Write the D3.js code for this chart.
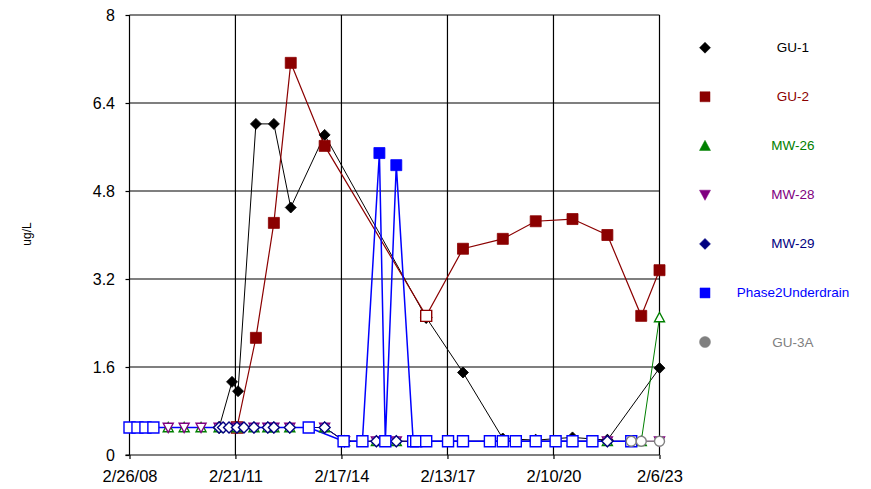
<!DOCTYPE html>
<html>
<head>
<meta charset="utf-8">
<script src="https://cdn.jsdelivr.net/npm/d3@7"></script>
<style>
  html, body { margin: 0; padding: 0; background: #fff; }
  svg { display: block; font-family: "Liberation Sans", Arial, sans-serif; }
</style>
</head>
<body>
<svg id="chart" width="871" height="489"></svg>
<script>
// ---------------- DATA ----------------
const xTickDates  = ["2008-02-26","2011-02-21","2014-02-17","2017-02-13","2020-02-10","2023-02-06"];
const xTickLabels = ["2/26/08","2/21/11","2/17/14","2/13/17","2/10/20","2/6/23"];
const yTickValues = [0, 1.6, 3.2, 4.8, 6.4, 8];
const yTickLabels = ["0","1.6","3.2","4.8","6.4","8"];

const seriesNames = ["GU-1","GU-2","MW-26","MW-28","MW-29","Phase2Underdrain","GU-3A"];

const gu1Dates  = ["2010-09-06","2011-01-17","2011-03-20","2011-09-20","2012-03-23","2012-09-13","2013-08-28","2016-07-09","2017-07-23","2018-09-06","2019-08-11","2020-08-24","2021-08-18","2023-02-06"];
const gu1Values = [0.5, 1.33, 1.16, 6.02, 6.02, 4.5, 5.82, 2.5, 1.5, 0.3, 0.27, 0.32, 0.27, 1.58];
const gu1Open   = [1,0,0,0,0,0,0,1,0,0,1,0,1,0];

const gu2Dates  = ["2011-03-09","2011-09-20","2012-03-23","2012-09-13","2013-08-28","2016-07-09","2017-07-23","2018-09-06","2019-08-11","2020-08-24","2021-08-18","2022-08-02","2023-02-06"];
const gu2Values = [0.5, 2.13, 4.22, 7.13, 5.62, 2.53, 3.75, 3.93, 4.25, 4.29, 4.0, 2.53, 3.36];
const gu2Open   = [1,0,0,0,0,1,0,0,0,0,0,0,0];

const mw26Dates  = ["2009-03-31","2009-09-11","2010-03-04","2010-09-06","2011-03-09","2011-08-31","2012-01-21","2012-03-23","2012-09-03","2013-08-28","2014-03-21","2014-09-21","2015-02-12","2015-09-05","2016-03-28","2017-02-19","2017-07-23","2018-09-06","2020-03-03","2020-08-24","2021-08-18","2022-08-02","2023-02-06"];
const mw26Values = [0.5,0.5,0.5,0.5,0.5,0.5,0.5,0.5,0.5,0.5,0.25,0.25,0.25,0.25,0.25,0.25,0.25,0.25,0.25,0.25,0.25,0.25,2.5];
const mw26Open   = [1,1,1,1,1,1,1,1,1,1,1,1,1,1,1,1,1,1,1,1,1,1,1];

const mw28Dates  = ["2009-03-31","2009-09-11","2010-03-04","2010-09-06","2011-03-09","2011-08-31","2012-01-21","2012-03-23","2012-09-03","2013-08-28","2014-03-21","2015-02-12","2015-09-05","2021-08-18","2023-02-06"];
const mw28Values = [0.5,0.5,0.5,0.5,0.5,0.5,0.5,0.5,0.5,0.5,0.25,0.25,0.25,0.25,0.25];
const mw28Open   = [1,1,1,1,1,1,1,1,1,1,1,1,1,1,1];

const mw29Dates  = ["2010-09-06","2010-10-17","2010-12-17","2011-03-09","2011-05-20","2011-08-31","2012-01-21","2012-03-23","2012-09-03","2013-08-28","2014-03-21","2015-02-12","2015-09-05","2021-08-18"];
const mw29Values = [0.5,0.5,0.5,0.5,0.5,0.5,0.5,0.5,0.5,0.5,0.25,0.25,0.25,0.25];
const mw29Open   = [1,1,1,1,1,1,1,1,1,1,1,1,1,1];

const p2Dates  = ["2008-02-26","2008-05-18","2008-08-08","2008-10-29","2013-03-17","2014-03-11","2014-09-21","2015-03-15","2015-05-15","2015-09-05","2016-02-26","2016-03-28","2016-07-09","2017-02-19","2017-07-23","2018-04-26","2018-09-06","2019-01-18","2019-08-11","2020-03-03","2020-08-24","2021-03-17","2022-04-21"];
const p2Values = [0.5,0.5,0.5,0.5,0.5,0.25,0.25,5.49,0.25,5.27,0.25,0.25,0.25,0.25,0.25,0.25,0.25,0.25,0.25,0.25,0.25,0.25,0.25];
const p2Open   = [1,1,1,1,1,1,1,0,1,0,1,1,1,1,1,1,1,1,1,1,1,1,1];

const gu3aDates  = ["2022-04-21","2022-08-02","2023-02-06"];
const gu3aValues = [0.25, 0.25, 0.25];
const gu3aOpen   = [1,1,1];

// ---------------- BUILD ----------------
(function () {
const parse = d3.utcParse("%Y-%m-%d");
function build(dates, values, open) {
  return dates.map((d, i) => ({ date: parse(d), value: values[i], open: !!open[i] }));
}
const series = [
  { name: seriesNames[0], color: "#000000", marker: "diamond", size: 11, lw: 1,   data: build(gu1Dates, gu1Values, gu1Open) },
  { name: seriesNames[1], color: "#8b0000", marker: "square",  size: 11, lw: 1.2, data: build(gu2Dates, gu2Values, gu2Open) },
  { name: seriesNames[2], color: "#008000", marker: "triUp",   size: 10, lw: 1,   data: build(mw26Dates, mw26Values, mw26Open) },
  { name: seriesNames[3], color: "#800080", marker: "triDown", size: 10, lw: 1,   data: build(mw28Dates, mw28Values, mw28Open) },
  { name: seriesNames[4], color: "#000080", marker: "diamond", size: 11, lw: 1,   data: build(mw29Dates, mw29Values, mw29Open) },
  { name: seriesNames[5], color: "#0000ff", marker: "square",  size: 11, lw: 1.5, data: build(p2Dates, p2Values, p2Open) },
  { name: seriesNames[6], color: "#808080", marker: "circle",  size: 10, lw: 1.2, data: build(gu3aDates, gu3aValues, gu3aOpen) }
];

const svg = d3.select("#chart");
const pLeft = 129.5, pRight = 659.5, pTop = 15, pBottom = 455;

const x = d3.scaleUtc().domain([parse(xTickDates[0]), parse(xTickDates[xTickDates.length - 1])]).range([pLeft, pRight]);
const y = d3.scaleLinear().domain([0, 8]).range([pBottom, pTop]);

function markerPath(type, s) {
  const h = s / 2;
  switch (type) {
    case "square":  return `M${-h},${-h}H${h}V${h}H${-h}Z`;
    case "diamond": return `M0,${-h}L${h},0L0,${h}L${-h},0Z`;
    case "triUp":   return `M0,${-h}L${h},${h * 0.85}L${-h},${h * 0.85}Z`;
    case "triDown": return `M0,${h}L${h},${-h * 0.85}L${-h},${-h * 0.85}Z`;
    case "circle":  return d3.arc()({ innerRadius: 0, outerRadius: h, startAngle: 0, endAngle: 2 * Math.PI });
  }
}

// gridlines
const grid = svg.append("g");
grid.selectAll("line.h").data(yTickValues.filter(v => v > 0)).join("line")
  .attr("x1", pLeft).attr("x2", pRight)
  .attr("y1", d => y(d)).attr("y2", d => y(d))
  .attr("stroke", "#555").attr("stroke-width", 1.5);
grid.selectAll("line.v").data(xTickDates.slice(1)).join("line")
  .attr("x1", d => x(parse(d))).attr("x2", d => x(parse(d)))
  .attr("y1", pTop).attr("y2", pBottom)
  .attr("stroke", "#000").attr("stroke-width", 1.2);

// axes
const yAxis = d3.axisLeft(y).tickValues(yTickValues).tickSize(4).tickPadding(10.5)
  .tickFormat((d, i) => yTickLabels[i]);
const yg = svg.append("g").attr("transform", `translate(${pLeft},0)`).call(yAxis);
const xAxis = d3.axisBottom(x).tickValues(xTickDates.map(parse)).tickSize(4).tickPadding(11)
  .tickFormat((d, i) => xTickLabels[i]);
const xg = svg.append("g").attr("transform", `translate(0,${pBottom})`).call(xAxis);
[yg, xg].forEach(g => {
  g.select(".domain").remove();
  g.selectAll(".tick line").attr("stroke", "#000").attr("stroke-width", 1.2);
  g.selectAll("text").attr("fill", "#000")
    .attr("font-family", "'Liberation Sans', Arial, sans-serif");
});
yg.selectAll("text").attr("font-size", "16px");
xg.selectAll("text").attr("font-size", "16.5px");
svg.append("line").attr("x1", pLeft).attr("x2", pLeft).attr("y1", pTop).attr("y2", pBottom)
  .attr("stroke", "#000").attr("stroke-width", 1.2);
svg.append("line").attr("x1", pLeft - 4).attr("x2", pRight).attr("y1", pBottom).attr("y2", pBottom)
  .attr("stroke", "#000").attr("stroke-width", 1.2);

// y title
svg.append("text").attr("transform", "translate(27,234) rotate(-90)")
  .attr("text-anchor", "middle").attr("dominant-baseline", "central")
  .attr("font-size", "12px").attr("fill", "#000").text("ug/L");

// lines
const line = d3.line().x(d => x(d.date)).y(d => y(d.value));
const lineG = svg.append("g");
series.forEach(s => {
  lineG.append("path").datum(s.data).attr("d", line)
    .attr("fill", "none").attr("stroke", s.color).attr("stroke-width", s.lw);
});

// markers
const markG = svg.append("g");
series.forEach(s => {
  markG.append("g").selectAll("path").data(s.data).join("path")
    .attr("transform", d => `translate(${x(d.date)},${y(d.value)})`)
    .attr("d", markerPath(s.marker, s.size))
    .attr("fill", d => d.open ? "#fff" : s.color)
    .attr("stroke", s.color)
    .attr("stroke-width", d => d.open ? 1.4 : 0.8);
});

// legend
const legend = svg.append("g");
series.forEach((s, i) => {
  const ly = 47.7 + i * 49.05;
  legend.append("path").attr("transform", `translate(705,${ly})`)
    .attr("d", markerPath(s.marker, s.marker === "square" ? 10 : 11))
    .attr("fill", s.color).attr("stroke", s.color).attr("stroke-width", 0.5);
  legend.append("text").attr("x", 793).attr("y", ly).attr("text-anchor", "middle")
    .attr("dominant-baseline", "central").attr("font-size", "13.5px")
    .attr("fill", s.color).text(s.name);
});
})();
</script>
</body>
</html>
